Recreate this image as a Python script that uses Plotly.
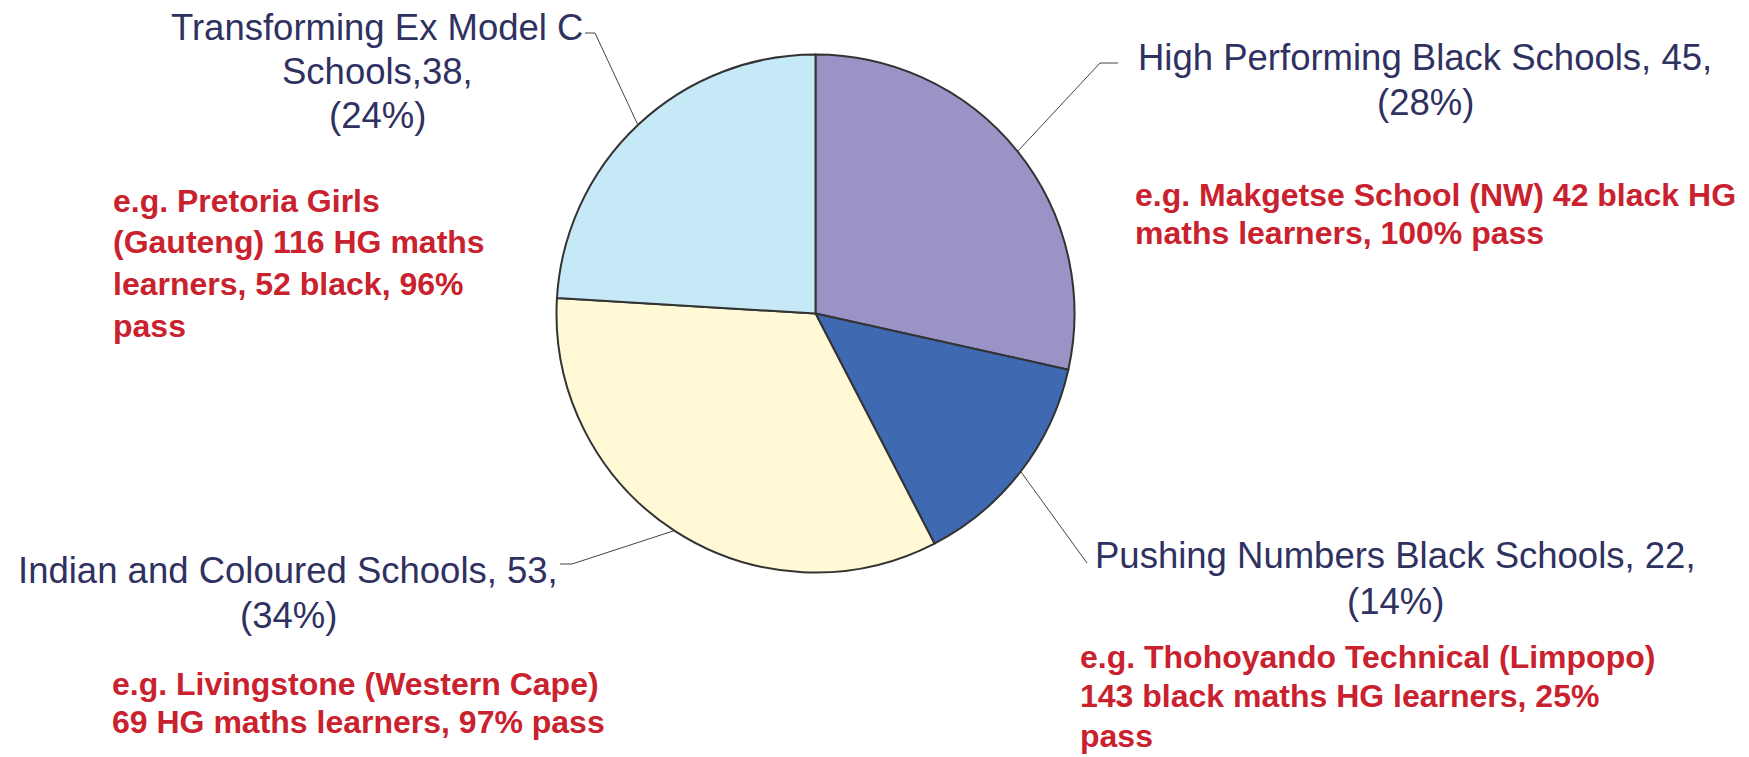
import math
import plotly.graph_objects as go

# ---- data ----
categories = ["High Performing Black Schools", "Pushing Numbers Black Schools",
              "Indian and Coloured Schools", "Transforming Ex Model C Schools"]
school_counts = [45, 22, 53, 38]
slice_colors = ["#9A94C6", "#3F69B1", "#FFF9D6", "#C6E9F8"]
examples = [
    ["e.g. Makgetse School (NW) 42 black HG", "maths learners, 100% pass"],
    ["e.g. Thohoyando Technical (Limpopo)", "143 black maths HG learners, 25%", "pass"],
    ["e.g. Livingstone (Western Cape)", "69 HG maths learners, 97% pass"],
    ["e.g. Pretoria Girls", "(Gauteng) 116 HG maths", "learners, 52 black, 96%", "pass"],
]

total = sum(school_counts)
pcts = [round(v / total * 100) for v in school_counts]

def label_lines(i):
    v, p = school_counts[i], pcts[i]
    if i == 3:
        return ["Transforming Ex Model C", f"Schools,{v},", f"({p}%)"]
    return [f"{categories[i]}, {v},", f"({p}%)"]

# ---- layout geometry (pixels) ----
W, H = 1749, 757
CX, CY, R = 815.5, 313.5, 259
NAVY = "#2F3161"
RED = "#C9222E"
FONT = "Liberation Sans, Arial, sans-serif"

fig = go.Figure(go.Pie(
    labels=categories, values=school_counts, sort=False, direction="clockwise",
    rotation=0, textinfo="none", hoverinfo="label+value+percent",
    marker=dict(colors=slice_colors, line=dict(color="#333333", width=2)),
    domain=dict(x=[(CX - R) / W, (CX + R) / W], y=[(H - CY - R) / H, (H - CY + R) / H]),
    showlegend=False,
))

def px(x):
    return x / W

def py(y):
    return 1 - y / H

annotations = []

def add_block(lines, x, base0, spacing, size, color, bold, anchor):
    for k, t in enumerate(lines):
        base = base0 + k * spacing
        annotations.append(dict(
            x=px(x), y=py(base - 0.35 * size), xref="paper", yref="paper",
            xanchor=anchor, yanchor="middle", showarrow=False,
            text=f"<b>{t}</b>" if bold else t,
            font=dict(family=FONT, size=size, color=color),
        ))

# navy labels: (center x, first baseline, spacing)
label_pos = [(1425, 70, 45), (1395, 568, 46), (288, 583, 45), (377, 40, 44)]
for i, (x, b, s) in enumerate(label_pos):
    add_block(label_lines(i), x, b, s, 36.5, NAVY, False, "center")

# red examples: (left x, first baseline, spacing)
example_pos = [(1133, 206, 38), (1078, 668, 39.5), (110, 695, 38), (110.7, 211.7, 41.7)]
for i, (x, b, s) in enumerate(example_pos):
    add_block(examples[i], x, b, s, 32, RED, True, "left")

# leader lines from slice midpoints on the pie edge
leader_pts = [[(1100, 63), (1118, 63)], [(1087, 563)], [(572, 564), (560, 564)], [(595, 33), (585, 33)]]
shapes = []
cum = 0
for i, v in enumerate(school_counts):
    ang = 2 * math.pi * (cum + v / 2) / total
    cum += v
    pts = [(CX + R * math.sin(ang), CY - R * math.cos(ang))] + leader_pts[i]
    for (x0, y0), (x1, y1) in zip(pts[:-1], pts[1:]):
        shapes.append(dict(type="line", xref="paper", yref="paper",
                           x0=px(x0), y0=py(y0), x1=px(x1), y1=py(y1),
                           line=dict(color="#444444", width=1)))

fig.update_layout(
    width=W, height=H, margin=dict(l=0, r=0, t=0, b=0),
    paper_bgcolor="white", plot_bgcolor="white",
    annotations=annotations, shapes=shapes,
)

fig.write_html("out.html")
